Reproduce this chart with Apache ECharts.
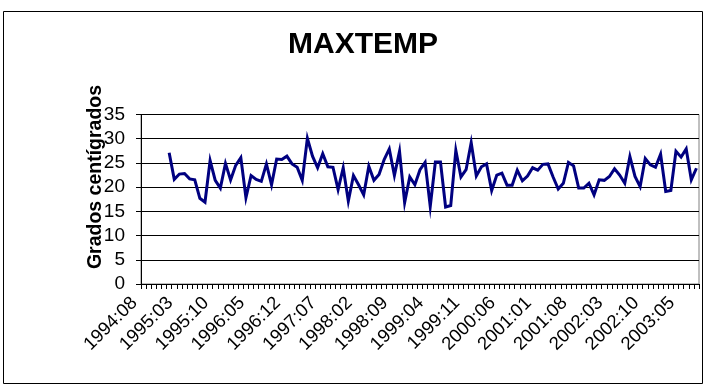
<!DOCTYPE html>
<html>
<head>
<meta charset="utf-8">
<script src="https://cdn.jsdelivr.net/npm/echarts@6/dist/echarts.min.js"></script>
<style>
  html, body { margin: 0; padding: 0; background: #fff; }
  #chart { width: 707px; height: 392px; }
</style>
</head>
<body>
<div id="chart"></div>
<script>
// Monthly maximum temperature (°C), axis runs from 1994:08 to 2003:08
const startYear = 1994;
const startMonth = 8;
const monthCount = 109;

// Values per month; the first five months have no observation
const maxTemp = [
  null, null, null, null, null,
  27.1, 21.6, 22.7, 22.8, 21.7, 21.5, 17.7, 16.9, 25.5, 21.4,
  19.8, 24.9, 21.5, 24.5, 26.1, 17.8, 22.4, 21.6, 21.2, 24.8,
  20.5, 25.8, 25.7, 26.4, 24.8, 24.1, 21.4, 30.1, 26.4, 24.0,
  26.9, 24.2, 24.1, 19.5, 24.0, 17.1, 22.4, 20.5, 18.4, 24.3,
  21.4, 22.6, 25.7, 27.9, 22.4, 27.4, 16.8, 22.1, 20.5, 23.6,
  25.1, 16.0, 25.2, 25.2, 15.9, 16.2, 27.6, 22.1, 23.6, 29.2,
  22.3, 24.2, 24.8, 19.3, 22.5, 22.9, 20.4, 20.4, 23.5, 21.3,
  22.3, 24.0, 23.5, 24.7, 24.8, 22.1, 19.6, 20.8, 25.1, 24.4,
  19.8, 19.8, 20.8, 18.4, 21.5, 21.4, 22.2, 23.8, 22.5, 20.8,
  26.3, 22.2, 20.1, 25.9, 24.6, 24.1, 26.8, 19.1, 19.3, 27.4,
  26.2, 27.9, 21.5, 23.9
];

const yTicks = [0, 5, 10, 15, 20, 25, 30, 35];

// Category labels "YYYY:MM"
const months = [];
for (let k = 0; k < monthCount; k++) {
  const m0 = startMonth - 1 + k;
  const y = startYear + Math.floor(m0 / 12);
  const m = (m0 % 12) + 1;
  months.push(y + ':' + (m < 10 ? '0' + m : m));
}

const FONT = 'Liberation Sans, Arial, sans-serif';
const chart = echarts.init(document.getElementById('chart'), null, { renderer: 'canvas' });

chart.setOption({
  backgroundColor: '#ffffff',
  animation: false,
  title: {
    text: 'MAXTEMP',
    left: 288,
    top: 30,
    padding: 0,
    textStyle: { fontFamily: FONT, fontWeight: 'bold', fontSize: 30, color: '#000' }
  },
  graphic: [
    {
      type: 'rect',
      shape: { x: 3.5, y: 11.5, width: 699, height: 372 },
      style: { fill: 'none', stroke: '#000', lineWidth: 1 },
      silent: true,
      z: -1
    },
    {
      type: 'text',
      x: 96,
      y: 177,
      rotation: Math.PI / 2,
      style: {
        text: 'Grados centígrados',
        align: 'center',
        verticalAlign: 'middle',
        font: 'bold 19.5px ' + FONT,
        fill: '#000'
      }
    }
  ],
  grid: {
    left: 141,
    right: 8,
    top: 114.5,
    bottom: 108,
    show: true,
    borderColor: '#808080',
    borderWidth: 1,
    containLabel: false
  },
  xAxis: {
    type: 'category',
    data: months,
    boundaryGap: true,
    axisLine: { show: true, lineStyle: { color: '#000', width: 1 } },
    axisTick: { show: true, interval: 0, length: 5, lineStyle: { color: '#000' } },
    axisLabel: {
      interval: 6,
      rotate: 45,
      margin: 7,
      padding: [0, 13, 0, 0],
      fontFamily: FONT,
      fontSize: 18.5,
      color: '#000'
    },
    splitLine: { show: false }
  },
  yAxis: {
    type: 'value',
    min: yTicks[0],
    max: yTicks[yTicks.length - 1],
    interval: 5,
    axisLine: { show: true, lineStyle: { color: '#000', width: 1 } },
    axisTick: { show: true, length: 5, lineStyle: { color: '#000' } },
    axisLabel: { margin: 16, fontFamily: FONT, fontSize: 19, color: '#000' },
    splitLine: { show: true, lineStyle: { color: '#000', width: 1 } }
  },
  series: [{
    name: 'MAXTEMP',
    type: 'line',
    data: maxTemp,
    showSymbol: false,
    connectNulls: false,
    lineStyle: { color: '#000080', width: 3, join: 'miter' },
    itemStyle: { color: '#000080' }
  }]
});
</script>
</body>
</html>
